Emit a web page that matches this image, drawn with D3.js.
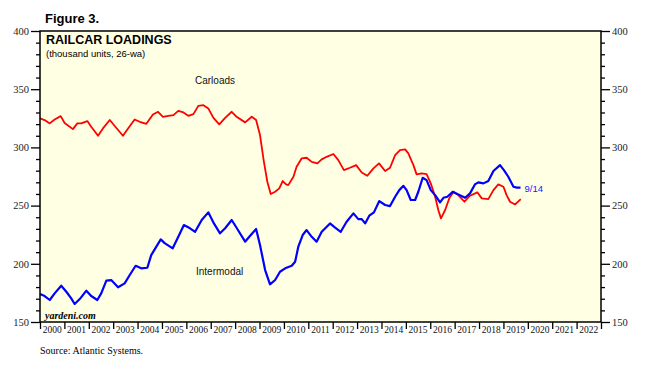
<!DOCTYPE html>
<html>
<head>
<meta charset="utf-8">
<script src="https://cdn.jsdelivr.net/npm/d3@7"></script>
<style>
  body { margin: 0; background: #fff; }
  svg { display: block; }
</style>
</head>
<body>
<script>
// weekly series, 26-week average (decimal years)
const carloadDates = [2000.00, 2000.19, 2000.40, 2000.60, 2000.85, 2001.01, 2001.35, 2001.53, 2001.69, 2001.94,
  2002.10, 2002.38, 2002.58, 2002.86, 2003.09, 2003.40, 2003.61, 2003.88, 2004.09, 2004.36,
  2004.63, 2004.84, 2005.04, 2005.26, 2005.47, 2005.67, 2005.88, 2006.08, 2006.29, 2006.49,
  2006.70, 2006.90, 2007.11, 2007.35, 2007.59, 2007.86, 2008.06, 2008.41, 2008.68, 2008.86,
  2009.02, 2009.18, 2009.32, 2009.46, 2009.64, 2009.81, 2009.95, 2010.09, 2010.18, 2010.39,
  2010.52, 2010.73, 2010.93, 2011.14, 2011.37, 2011.55, 2011.75, 2012.03, 2012.23, 2012.46,
  2012.71, 2012.96, 2013.19, 2013.42, 2013.67, 2013.90, 2014.15, 2014.35, 2014.56, 2014.76,
  2014.97, 2015.10, 2015.31, 2015.44, 2015.65, 2015.85, 2016.02, 2016.20, 2016.33, 2016.44,
  2016.61, 2016.78, 2016.95, 2017.15, 2017.40, 2017.63, 2017.93, 2018.11, 2018.38, 2018.59,
  2018.79, 2019.00, 2019.13, 2019.27, 2019.48, 2019.57, 2019.71];
const carloadValues = [325, 323.5, 320.6, 324, 326.9, 321, 315.7, 320.6, 320.6, 322.6,
  317.7, 310, 316.3, 323.5, 317.7, 310, 316.3, 324, 322, 320.3,
  328.3, 330.6, 326.3, 327.1, 327.7, 331.4, 330, 327.1, 328.6, 335.7,
  336.3, 333.5, 325.4, 319.8, 325.4, 330.6, 326.3, 321.5, 326.3, 323.5,
  310.6, 287.6, 270.5, 259.9, 261.9, 264.8, 271.1, 268.2, 267.6, 274.8,
  283.4, 290.6, 291.1, 287.6, 286.3, 289.7, 291.9, 294.3, 289.1, 280.5,
  282.5, 284.8, 278.5, 275.6, 282, 286.3, 279.7, 282.5, 293.4, 297.7,
  298.3, 294.9, 284.8, 276.8, 277.7, 277.1, 269.1, 257.6, 246.2, 239,
  246.2, 256.2, 261.9, 259, 253.3, 258.5, 261.4, 256.2, 255.6, 263.3,
  268.2, 266.2, 259, 253.3, 251, 252.8, 255.6];

const intermodalDates = [2000.00, 2000.19, 2000.40, 2000.60, 2000.87, 2001.08, 2001.28, 2001.42, 2001.63, 2001.90,
  2002.10, 2002.35, 2002.51, 2002.72, 2002.92, 2003.20, 2003.47, 2003.68, 2003.92, 2004.15,
  2004.40, 2004.56, 2004.77, 2004.95, 2005.11, 2005.44, 2005.67, 2005.90, 2006.15, 2006.36,
  2006.63, 2006.90, 2007.13, 2007.38, 2007.59, 2007.86, 2008.09, 2008.41, 2008.58, 2008.86,
  2009.02, 2009.23, 2009.43, 2009.64, 2009.84, 2010.05, 2010.32, 2010.46, 2010.59, 2010.77,
  2010.93, 2011.14, 2011.34, 2011.55, 2011.89, 2012.10, 2012.33, 2012.57, 2012.85, 2013.05,
  2013.19, 2013.33, 2013.50, 2013.69, 2013.91, 2014.15, 2014.35, 2014.56, 2014.73, 2014.90,
  2015.03, 2015.20, 2015.38, 2015.51, 2015.69, 2015.85, 2016.02, 2016.20, 2016.40, 2016.54,
  2016.70, 2016.92, 2017.15, 2017.43, 2017.63, 2017.83, 2017.97, 2018.18, 2018.38, 2018.59,
  2018.86, 2019.02, 2019.20, 2019.41, 2019.55, 2019.70];
const intermodalValues = [174, 172.3, 168.9, 174.6, 181.2, 176, 170.3, 165.5, 169.7, 176.9,
  172.3, 168.9, 174.6, 185.5, 186, 179.8, 183.2, 190.4, 198.3, 196.1,
  196.6, 207.5, 214.7, 221, 217.8, 213.3, 223.2, 233.3, 230.5, 227.5,
  237.6, 244.2, 234.7, 226.2, 230.5, 237.6, 229.9, 219, 223.2, 229.9,
  216.1, 194.6, 182.4, 186.1, 193.2, 196.1, 198.3, 201.8, 214.7, 224.7,
  229, 223.2, 219, 227.5, 234.7, 231, 227.5, 236.1, 243.3, 238.4,
  238.4, 234.7, 241.3, 244.2, 253.9, 250.5, 249.6, 257.6, 263.3, 267,
  263.3, 254.8, 254.8, 261.9, 273.9, 271.9, 263.3, 259, 252.8, 256.7,
  257.6, 261.9, 259.6, 256.7, 260.5, 268.2, 270, 269.1, 271.1, 279.7,
  284.8, 280.5, 274.8, 266.2, 265.4, 265.4];

const yearLabels = ["2000", "2001", "2002", "2003", "2004", "2005", "2006", "2007", "2008", "2009", "2010",
  "2011", "2012", "2013", "2014", "2015", "2016", "2017", "2018", "2019", "2020", "2021", "2022"];
const yMajorTicks = [150, 200, 250, 300, 350, 400];
const lastDateLabel = "9/14";

const w = 664;
const h = 378;
const plotLeft = 40, plotRight = 601, plotTop = 31, plotBottom = 322;

const svg = d3.select("body")
  .append("svg")
  .attr("width", w)
  .attr("height", h);

const x = d3.scaleLinear().domain([2000, 2023]).range([plotLeft, plotRight]);
const y = d3.scaleLinear().domain([150, 400]).range([plotBottom, plotTop]);

svg.append("rect")
  .attr("x", plotLeft)
  .attr("y", plotTop)
  .attr("width", plotRight - plotLeft)
  .attr("height", plotBottom - plotTop)
  .attr("fill", "#ffffe4");

const minorTicks = d3.range(150, 401, 10).filter((v) => !yMajorTicks.includes(v));
const serif = "'Liberation Serif', 'Times New Roman', serif";
const sans = "'Liberation Sans', Arial, sans-serif";

function styleAxis(g) {
  g.select(".domain").remove();
  g.selectAll("line").attr("stroke", "#000").attr("stroke-width", 1.3);
  g.selectAll("text").attr("font-family", serif).attr("font-size", 10.5).attr("fill", "#222");
}

// left axis
svg.append("g")
  .attr("transform", `translate(${plotLeft},0)`)
  .call(d3.axisLeft(y).tickValues(minorTicks).tickSize(4).tickFormat(""))
  .call(styleAxis);
svg.append("g")
  .attr("transform", `translate(${plotLeft},0)`)
  .call(d3.axisLeft(y).tickValues(yMajorTicks).tickSize(9).tickPadding(2))
  .call(styleAxis);

// right axis
svg.append("g")
  .attr("transform", `translate(${plotRight},0)`)
  .call(d3.axisRight(y).tickValues(minorTicks).tickSize(4).tickFormat(""))
  .call(styleAxis);
svg.append("g")
  .attr("transform", `translate(${plotRight},0)`)
  .call(d3.axisRight(y).tickValues(yMajorTicks).tickSize(9).tickPadding(2))
  .call(styleAxis);

// bottom axis: ticks on year boundaries, labels in between
svg.append("g")
  .attr("transform", `translate(0,${plotBottom})`)
  .call(d3.axisBottom(x).tickValues(d3.range(2000, 2024)).tickSize(7).tickFormat(""))
  .call(styleAxis);

svg.append("g")
  .selectAll("text")
  .data(yearLabels)
  .enter()
  .append("text")
  .attr("x", (d) => x(+d + 0.5))
  .attr("y", plotBottom + 11)
  .attr("text-anchor", "middle")
  .attr("font-family", serif)
  .attr("font-size", 9.5)
  .attr("fill", "#111")
  .text((d) => d);

// series
const line = d3.line()
  .x((d) => x(d[0]))
  .y((d) => y(d[1]));

svg.append("path")
  .datum(d3.zip(carloadDates, carloadValues))
  .attr("d", line)
  .attr("fill", "none")
  .attr("stroke", "#ff0000")
  .attr("stroke-width", 1.8)
  .attr("stroke-linejoin", "round");

svg.append("path")
  .datum(d3.zip(intermodalDates, intermodalValues))
  .attr("d", line)
  .attr("fill", "none")
  .attr("stroke", "#0000ff")
  .attr("stroke-width", 2.2)
  .attr("stroke-linejoin", "round");

// frame
svg.append("rect")
  .attr("x", plotLeft)
  .attr("y", plotTop)
  .attr("width", plotRight - plotLeft)
  .attr("height", plotBottom - plotTop)
  .attr("fill", "none")
  .attr("stroke", "#000")
  .attr("stroke-width", 1.5);

// texts
svg.append("text")
  .attr("x", 45).attr("y", 23)
  .attr("font-family", sans).attr("font-weight", "bold").attr("font-size", 13)
  .text("Figure 3.");

svg.append("text")
  .attr("x", 46).attr("y", 44)
  .attr("font-family", sans).attr("font-weight", "bold").attr("font-size", 12.5)
  .text("RAILCAR LOADINGS");

svg.append("text")
  .attr("x", 46).attr("y", 56.5)
  .attr("font-family", sans).attr("font-size", 9.5)
  .text("(thousand units, 26-wa)");

svg.append("text")
  .attr("x", 195).attr("y", 84)
  .attr("font-family", sans).attr("font-size", 10)
  .attr("fill", "#111")
  .text("Carloads");

svg.append("text")
  .attr("x", 196).attr("y", 275)
  .attr("font-family", sans).attr("font-size", 10)
  .attr("fill", "#111")
  .text("Intermodal");

svg.append("text")
  .attr("x", x(intermodalDates[intermodalDates.length - 1]) + 4)
  .attr("y", y(intermodalValues[intermodalValues.length - 1]) + 4)
  .attr("font-family", sans).attr("font-size", 9.5)
  .attr("fill", "#1a1aff")
  .text(lastDateLabel);

svg.append("text")
  .attr("x", 45).attr("y", 318.5)
  .attr("font-family", serif).attr("font-style", "italic").attr("font-weight", "bold").attr("font-size", 10)
  .text("yardeni.com");

svg.append("text")
  .attr("x", 40).attr("y", 354)
  .attr("font-family", serif).attr("font-size", 10)
  .text("Source: Atlantic Systems.");
</script>
</body>
</html>
